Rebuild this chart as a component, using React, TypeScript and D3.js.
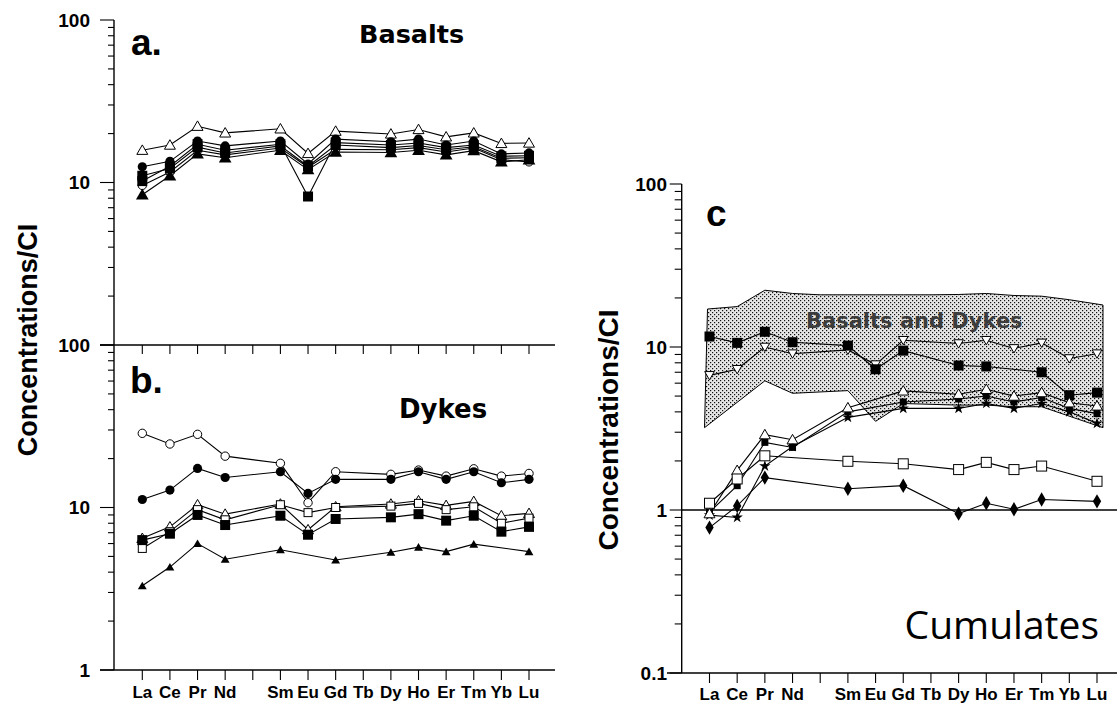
import React from "react";
import * as d3 from "d3";

const ELEMENTS = ["La","Ce","Pr","Nd","Pm","Sm","Eu","Gd","Tb","Dy","Ho","Er","Tm","Yb","Lu"];
const TICK_LABELS = ["La","Ce","Pr","Nd","","Sm","Eu","Gd","Tb","Dy","Ho","Er","Tm","Yb","Lu"];

// Panel a: basalts
const basaltOpenTri = [15.8,17.0,22.2,20.2,null,21.4,15.1,20.7,null,19.9,21.2,19.1,20.2,17.4,17.5];
const basaltFilledCircle = [12.5,13.5,18.0,16.8,null,18.0,13.0,18.5,null,17.8,18.5,17.0,18.0,15.0,15.2];
const basaltFilledSquare = [10.2,12.6,17.2,15.8,null,17.2,8.2,17.6,null,17.0,17.5,16.4,17.0,14.5,14.6];
const basaltFilledTri = [8.4,11.0,15.0,14.2,null,15.8,12.0,15.4,null,15.3,15.8,14.8,15.7,13.4,13.8];
const basaltOpenCircle = [9.6,11.6,15.8,14.8,null,16.3,12.4,16.0,null,15.9,16.4,15.4,16.3,13.8,13.4];
const basaltFilledSquare2 = [11.0,12.2,16.5,15.2,null,16.8,12.6,17.0,null,16.4,16.9,15.9,16.6,14.1,14.2];

// Panel b: dykes
const dykeOpenCircle = [28.6,24.6,28.2,20.7,null,18.7,10.7,16.6,null,16.0,17.0,15.6,17.3,15.6,16.2];
const dykeFilledCircle = [11.2,12.8,17.4,15.3,null,16.6,12.2,14.9,null,14.9,16.6,14.9,16.6,14.2,14.9];
const dykeOpenTri = [6.46,7.6,10.4,9.1,null,10.5,7.3,10.1,null,10.5,11.0,10.3,10.9,8.9,9.2];
const dykeOpenSquare = [5.6,7.1,9.7,8.4,null,10.4,9.3,10.0,null,10.2,10.6,9.7,10.1,8.0,8.6];
const dykeFilledSquare = [6.3,6.9,9.0,7.8,null,8.9,6.8,8.5,null,8.7,9.1,8.3,8.9,7.1,7.6];
const dykeFilledTri = [3.3,4.3,6.0,4.8,null,5.5,null,4.75,null,5.3,5.7,5.35,5.95,null,5.35];

// Panel c: cumulates
const cumFilledSquare = [11.6,10.6,12.4,10.7,null,10.2,7.3,9.5,null,7.7,7.6,null,7.0,5.06,5.25];
const cumOpenInvTri = [6.7,7.3,10.0,9.1,null,9.6,7.8,11.0,null,10.5,11.0,9.8,10.6,8.5,9.1];
const cumOpenTri = [0.95,1.75,2.9,2.7,null,4.24,null,5.38,null,5.13,5.5,5.0,5.25,4.55,4.35];
const cumSmallSquare = [0.97,1.41,2.6,2.42,null,4.0,null,4.6,null,4.8,5.0,4.6,4.9,4.2,3.9];
const cumStar = [0.93,0.9,1.86,2.45,null,3.7,null,4.2,null,4.2,4.5,4.2,4.5,4.0,3.4];
const cumOpenSquare = [1.1,1.55,2.15,null,null,1.99,null,1.92,null,1.77,1.96,1.77,1.86,null,1.5];
const cumFilledDiamond = [0.78,1.06,1.58,null,null,1.35,null,1.41,null,0.95,1.1,1.01,1.16,null,1.13];

// Envelope "Basalts and Dykes"
const bandUpper = [17.1,17.7,22.3,21.3,20.9,20.9,20.9,20.9,20.9,21.0,21.3,20.7,20.5,19.5,18.1];
const bandLower = [3.2,null,6.2,5.2,null,5.4,3.5,4.5,null,4.4,4.4,4.3,4.3,null,3.2];

type Series = { values: (number | null)[]; marker: string };

const basalts: Series[] = [
  { values: basaltOpenTri, marker: "openTri" },
  { values: basaltOpenCircle, marker: "openCircle" },
  { values: basaltFilledTri, marker: "filledTri" },
  { values: basaltFilledSquare2, marker: "filledSquare" },
  { values: basaltFilledSquare, marker: "filledSquare" },
  { values: basaltFilledCircle, marker: "filledCircle" },
];
const dykes: Series[] = [
  { values: dykeOpenCircle, marker: "openCircle" },
  { values: dykeFilledCircle, marker: "filledCircle" },
  { values: dykeOpenTri, marker: "openTri" },
  { values: dykeOpenSquare, marker: "openSquare" },
  { values: dykeFilledSquare, marker: "filledSquare" },
  { values: dykeFilledTri, marker: "filledTriSmall" },
];
const cumulates: Series[] = [
  { values: cumOpenInvTri, marker: "openInvTri" },
  { values: cumFilledSquare, marker: "bigFilledSquare" },
  { values: cumStar, marker: "star" },
  { values: cumSmallSquare, marker: "smallFilledSquare" },
  { values: cumOpenTri, marker: "openTri" },
  { values: cumOpenSquare, marker: "bigOpenSquare" },
  { values: cumFilledDiamond, marker: "filledDiamond" },
];

function Marker({ type, x, y }: { type: string; x: number; y: number }) {
  const sw = 1;
  switch (type) {
    case "openTri":
      return <path d={d3.symbol(d3.symbolTriangle, 52)()!} transform={`translate(${x},${y + 1})`} fill="#fff" stroke="#000" strokeWidth={sw} />;
    case "openInvTri":
      return <path d={d3.symbol(d3.symbolTriangle, 40)()!} transform={`translate(${x},${y - 1}) rotate(180)`} fill="#fff" stroke="#000" strokeWidth={sw} />;
    case "filledTri":
      return <path d={d3.symbol(d3.symbolTriangle, 70)()!} transform={`translate(${x},${y + 1})`} fill="#000" />;
    case "filledTriSmall":
      return <path d={d3.symbol(d3.symbolTriangle, 34)()!} transform={`translate(${x},${y + 1})`} fill="#000" />;
    case "openCircle":
      return <circle cx={x} cy={y} r={4.2} fill="#fff" stroke="#000" strokeWidth={sw} />;
    case "filledCircle":
      return <circle cx={x} cy={y} r={4.6} fill="#000" />;
    case "filledSquare":
      return <rect x={x - 5} y={y - 5} width={10} height={10} fill="#000" />;
    case "bigFilledSquare":
      return <rect x={x - 5} y={y - 5} width={10} height={10} fill="#000" />;
    case "smallFilledSquare":
      return <rect x={x - 3.5} y={y - 3.5} width={7} height={7} fill="#000" />;
    case "openSquare":
      return <rect x={x - 4} y={y - 4} width={8} height={8} fill="#fff" stroke="#000" strokeWidth={sw} />;
    case "bigOpenSquare":
      return <rect x={x - 5} y={y - 5} width={10} height={10} fill="#fff" stroke="#000" strokeWidth={sw} />;
    case "star":
      return <path d={d3.symbol(d3.symbolStar, 40)()!} transform={`translate(${x},${y})`} fill="#000" />;
    case "filledDiamond":
      return <path d={d3.symbol(d3.symbolDiamond, 60)()!} transform={`translate(${x},${y})`} fill="#000" />;
    default:
      return null;
  }
}

function SeriesPlot({ series, x, y }: { series: Series[]; x: d3.ScalePoint<string>; y: d3.ScaleLogarithmic<number, number> }) {
  const line = d3.line<[string, number]>().x((d) => x(d[0])!).y((d) => y(d[1]));
  return (
    <g>
      {series.map((s, i) => {
        const pts = ELEMENTS.map((e, j) => [e, s.values[j]] as [string, number | null]).filter((p) => p[1] != null) as [string, number][];
        return <path key={"l" + i} d={line(pts)!} fill="none" stroke="#000" strokeWidth={1.1} />;
      })}
      {series.map((s, i) => (
        <g key={"m" + i}>
          {ELEMENTS.map((e, j) =>
            s.values[j] == null ? null : <Marker key={j} type={s.marker} x={x(e)!} y={y(s.values[j] as number)} />
          )}
        </g>
      ))}
    </g>
  );
}

function YAxis({ y, axisX, majorLen, minorLen }: { y: d3.ScaleLogarithmic<number, number>; axisX: number; majorLen: number; minorLen: number }) {
  const ticks = y.ticks();
  const [d0, d1] = y.domain();
  return (
    <g>
      <line x1={axisX} x2={axisX} y1={y(d1)} y2={y(d0)} stroke="#000" strokeWidth={1.4} />
      {ticks.map((t, i) => {
        const lg = Math.log10(t);
        const major = Math.abs(lg - Math.round(lg)) < 1e-9;
        return (
          <line key={i} x1={axisX - (major ? majorLen : minorLen)} x2={axisX} y1={y(t)} y2={y(t)} stroke="#000" strokeWidth={1.1} />
        );
      })}
    </g>
  );
}

function YLabels({ y, values, x, fontSize }: { y: d3.ScaleLogarithmic<number, number>; values: number[]; x: number; fontSize: number }) {
  return (
    <g>
      {values.map((v, i) => (
        <text key={i} x={x} y={y(v)} dy="0.36em" textAnchor="end" fontFamily="'Liberation Sans', Arial, sans-serif" fontWeight="bold" fontSize={fontSize}>
          {d3.format("~g")(v)}
        </text>
      ))}
    </g>
  );
}

function XAxis({ x, yPos, x1, x2, tickLen, labels, labelY }: { x: d3.ScalePoint<string>; yPos: number; x1: number; x2: number; tickLen: number; labels: boolean; labelY: number }) {
  return (
    <g>
      <line x1={x1} x2={x2} y1={yPos} y2={yPos} stroke="#000" strokeWidth={1.4} />
      {ELEMENTS.map((e) => (
        <line key={e} x1={x(e)!} x2={x(e)!} y1={yPos} y2={yPos + tickLen} stroke="#000" strokeWidth={1.1} />
      ))}
      {labels &&
        ELEMENTS.map((e, i) => (
          <text key={"t" + e} x={x(e)!} y={labelY} textAnchor="middle" fontFamily="'Liberation Sans Narrow', 'Liberation Sans', Arial, sans-serif" fontWeight="bold" fontSize={17}>
            {TICK_LABELS[i]}
          </text>
        ))}
    </g>
  );
}

export default function App() {
  const xL = d3.scalePoint<string>().domain(ELEMENTS).range([142.3, 529]);
  const xR = d3.scalePoint<string>().domain(ELEMENTS).range([709.5, 1097]);
  const yA = d3.scaleLog().domain([1, 100]).range([345, 20]);
  const yB = d3.scaleLog().domain([1, 100]).range([670, 345]);
  const yC = d3.scaleLog().domain([0.1, 100]).range([673, 184]);

  const upperPts: [number, number][] = [];
  ELEMENTS.forEach((e, i) => {
    if (bandUpper[i] != null) upperPts.push([xR(e)!, yC(bandUpper[i] as number)]);
  });
  const lowerPts: [number, number][] = [];
  ELEMENTS.forEach((e, i) => {
    if (bandLower[i] != null) lowerPts.push([xR(e)!, yC(bandLower[i] as number)]);
  });
  // small overhang of the envelope outside La and Lu, as in the figure
  upperPts[0][0] -= 2;
  upperPts[upperPts.length - 1][0] += 6;
  lowerPts[0][0] -= 5;
  lowerPts[lowerPts.length - 1][0] += 6;
  const poly = [...upperPts, ...lowerPts.reverse()];
  const polyPath = d3.line()(poly)! + "Z";

  const sans = "'Liberation Sans', Arial, sans-serif";
  const dejavu = "'DejaVu Sans', sans-serif";

  return (
    <div style={{ position: "absolute", left: 0, top: 0 }}>
      <svg width={1117} height={703} viewBox="0 0 1117 703" style={{ display: "block", background: "#fff" }}>
        <defs>
          <pattern id="stipple" width={4} height={4} patternUnits="userSpaceOnUse">
            <rect width={4} height={4} fill="#e6e6e6" />
            <rect x={0} y={0} width={1.2} height={1.2} fill="#111" />
            <rect x={2} y={2} width={1.2} height={1.2} fill="#111" />
          </pattern>
        </defs>

        {/* Left panels */}
        <YAxis y={yA} axisX={114} majorLen={14} minorLen={6} />
        <YAxis y={yB} axisX={114} majorLen={14} minorLen={6} />
        <YLabels y={yA} values={[10, 100]} x={90} fontSize={19} />
        <YLabels y={yB} values={[1, 10, 100]} x={90} fontSize={19} />
        <XAxis x={xL} yPos={345} x1={100} x2={555} tickLen={9} labels={false} labelY={0} />
        <XAxis x={xL} yPos={670} x1={100} x2={555} tickLen={10} labels={true} labelY={698} />
        <SeriesPlot series={basalts} x={xL} y={yA} />
        <SeriesPlot series={dykes} x={xL} y={yB} />
        <text x={131} y={55} fontFamily={sans} fontWeight="bold" fontSize={37}>a.</text>
        <text x={130} y={393} fontFamily={sans} fontWeight="bold" fontSize={37}>b.</text>
        <text x={359} y={43} fontFamily={dejavu} fontWeight="bold" fontSize={25.5}>Basalts</text>
        <text x={399} y={418} fontFamily={dejavu} fontWeight="bold" fontSize={26}>Dykes</text>
        <text transform="translate(37,340) rotate(-90)" textAnchor="middle" fontFamily={sans} fontWeight="bold" fontSize={27}>Concentrations/CI</text>

        {/* Right panel */}
        <path d={polyPath} fill="url(#stipple)" stroke="#000" strokeWidth={1} />
        <text x={806} y={328} fontFamily={dejavu} fontWeight="bold" fontSize={21} fill="#3c3c3c">Basalts and Dykes</text>
        <line x1={681.7} x2={1117} y1={yC(1)} y2={yC(1)} stroke="#000" strokeWidth={1.6} />
        <YAxis y={yC} axisX={681.7} majorLen={12} minorLen={7} />
        <YLabels y={yC} values={[0.1, 1, 10, 100]} x={667} fontSize={19} />
        <XAxis x={xR} yPos={673} x1={667} x2={1117} tickLen={10} labels={true} labelY={700} />
        <SeriesPlot series={cumulates} x={xR} y={yC} />
        <text x={706} y={226} fontFamily={sans} fontWeight="bold" fontSize={37}>c</text>
        <text x={1099} y={639} textAnchor="end" fontFamily="'Open Sans', 'Noto Sans', sans-serif" fontSize={39}>Cumulates</text>
        <text transform="translate(618,430) rotate(-90)" textAnchor="middle" fontFamily={sans} fontWeight="bold" fontSize={28}>Concentrations/CI</text>
      </svg>
    </div>
  );
}
